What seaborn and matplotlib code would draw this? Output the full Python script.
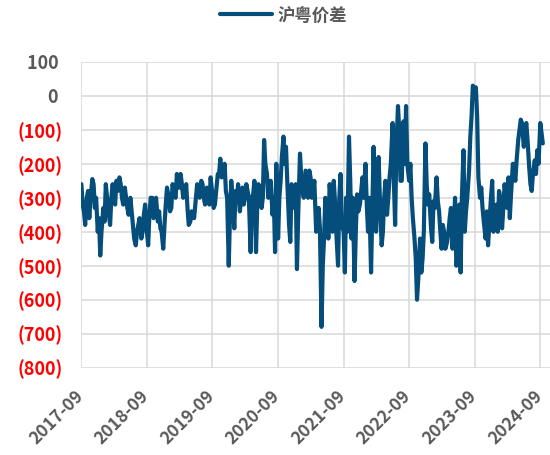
import pandas as pd
import matplotlib
matplotlib.use("Agg")
import matplotlib.pyplot as plt
import matplotlib.dates as mdates
import matplotlib.transforms as mtransforms
import seaborn as sns

# ---------- Data (2017-09 -> 2024-09) ----------
SERIES_NAME = "沪粤价差"

# readings on the 1st / 15th of each month
y2017 = [-260, -340, -300, -360, -245, -330, -400, -470, -330, -260, -350, -300,
         -290, -250, -240, -300, -270, -330, -300, -380, -440, -380, -420, -350]
y2018 = [-400, -350, -300, -330, -370, -390, -450, -320, -300, -330, -290, -230,
         -270, -260, -280, -330, -370, -350, -300, -290, -250, -300, -270, -320]
y2019 = [-290, -320, -230, -185, -230, -280, -500, -250, -390, -310, -340, -270,
         -300, -280, -460, -290, -460, -260, -330, -130, -230, -290, -350, -460]
y2020 = [-420, -250, -120, -150, -380, -260, -330, -510, -170, -280, -220, -300,
         -240, -280, -400, -330, -680, -420, -350, -260, -400, -310, -500, -230]
y2021 = [-400, -300, -120, -420, -545, -290, -320, -240, -200, -400, -520, -150,
         -400, -180, -440, -300, -350, -240, -80, -380, -30, -250, -75, -30]
y2022 = [-250, -300, -420, -600, -420, -480, -140, -320, -390, -310, -240, -340,
         -450, -400, -430, -360, -450, -300, -460, -520, -160, -340, -220, -60]
y2023 = [20, -60, -300, -330, -420, -440, -300, -400, -320, -280, -390, -260,
         -330, -360, -200, -250, -130, -70, -150, -80, -210, -280, -190, -160]
y2024 = [-80, -140]

# readings one week after each of the above
m2017 = [-320, -380, -280, -300, -260, -300, -360, -400, -370, -300, -380, -260,
         -320, -280, -260, -320, -300, -350, -340, -420, -400, -360, -400, -320]
m2018 = [-440, -300, -360, -300, -340, -400, -380, -270, -340, -260, -300, -270,
         -230, -300, -260, -380, -340, -360, -260, -300, -260, -320, -300, -240]
m2019 = [-330, -280, -230, -240, -200, -300, -350, -300, -280, -260, -300, -320,
         -260, -300, -300, -250, -320, -280, -300, -200, -300, -250, -300, -200]
m2020 = [-300, -180, -200, -250, -430, -300, -260, -350, -240, -300, -260, -220,
         -300, -250, -350, -390, -500, -300, -420, -300, -250, -400, -300, -380]
m2021 = [-520, -400, -250, -300, -400, -340, -280, -300, -320, -300, -330, -300,
         -300, -300, -400, -250, -300, -200, -250, -150, -100, -250, -200, -200]
m2022 = [-200, -360, -480, -540, -520, -400, -260, -290, -430, -330, -310, -400,
         -380, -450, -400, -330, -380, -500, -320, -300, -400, -300, -120, 30]
m2023 = [25, -240, -270, -370, -340, -380, -250, -360, -400, -300, -330, -300,
         -240, -290, -230, -190, -100, -80, -100, -130, -260, -230, -230, -200]
m2024 = [-110]

main = y2017 + y2018 + y2019 + y2020 + y2021 + y2022 + y2023 + y2024
mids = m2017 + m2018 + m2019 + m2020 + m2021 + m2022 + m2023 + m2024
main_dates = pd.date_range("2017-09-01", periods=len(main), freq="SMS")
mid_dates = main_dates[:len(mids)] + pd.Timedelta(days=7)

df = pd.concat([
    pd.DataFrame({"date": main_dates, SERIES_NAME: main}),
    pd.DataFrame({"date": mid_dates, SERIES_NAME: mids}),
]).sort_values("date")

year_ticks = pd.date_range("2017-09-01", "2024-09-01", freq="12MS")
y_ticks = list(range(100, -900, -100))

# ---------- Theme ----------
sns.set_style("white")
plt.rcParams["font.family"] = ["Noto Sans CJK SC", "DejaVu Sans"]
plt.rcParams["font.weight"] = "bold"

LINE = "#054E7C"
GRID = "#D9D9D9"
TEXT = "#595959"
RED = "#FF0000"

fig = plt.figure(figsize=(5.5, 4.55), dpi=100)
ax = fig.add_axes([0.148, 0.192, 0.852, 0.672])

sns.lineplot(data=df, x="date", y=SERIES_NAME, color=LINE, linewidth=3.0,
             ax=ax, legend=False)

ax.set_xlim(pd.Timestamp("2017-09-01"), pd.Timestamp("2024-10-25"))
ax.set_ylim(-800, 100)
ax.set_xticks(year_ticks)
ax.xaxis.set_major_formatter(mdates.DateFormatter("%Y-%m"))
ax.set_yticks(y_ticks)
ax.set_yticklabels([f"({abs(v)})" if v < 0 else f"{v} " for v in y_ticks])
for lab, v in zip(ax.get_yticklabels(), y_ticks):
    lab.set_color(RED if v < 0 else TEXT)
    lab.set_fontweight("bold")

ax.grid(True, color=GRID, linewidth=1.1)
for s in ax.spines.values():
    s.set_visible(False)
ax.tick_params(axis="y", length=3.6, width=1.1, color=GRID, pad=10, labelsize=13)
ax.tick_params(axis="x", length=0, pad=14, labelsize=12.5, labelcolor=TEXT)

offset = mtransforms.ScaledTranslation(4 / 72, 0, fig.dpi_scale_trans)
for lab in ax.get_xticklabels():
    lab.set_rotation(45)
    lab.set_ha("right")
    lab.set_va("top")
    lab.set_fontweight("bold")
    lab.set_transform(lab.get_transform() + offset)

ax.set_xlabel("")
ax.set_ylabel("")

handles = [plt.Line2D([], [], color=LINE, linewidth=3)]
leg = fig.legend(handles, [SERIES_NAME], loc="upper center", bbox_to_anchor=(0.515, 1.02),
                 frameon=False, handlelength=3.0, handletextpad=0.3,
                 prop={"size": 12.5, "weight": "bold"})
for t in leg.get_texts():
    t.set_color(TEXT)

fig.savefig("out.png", dpi=100)
